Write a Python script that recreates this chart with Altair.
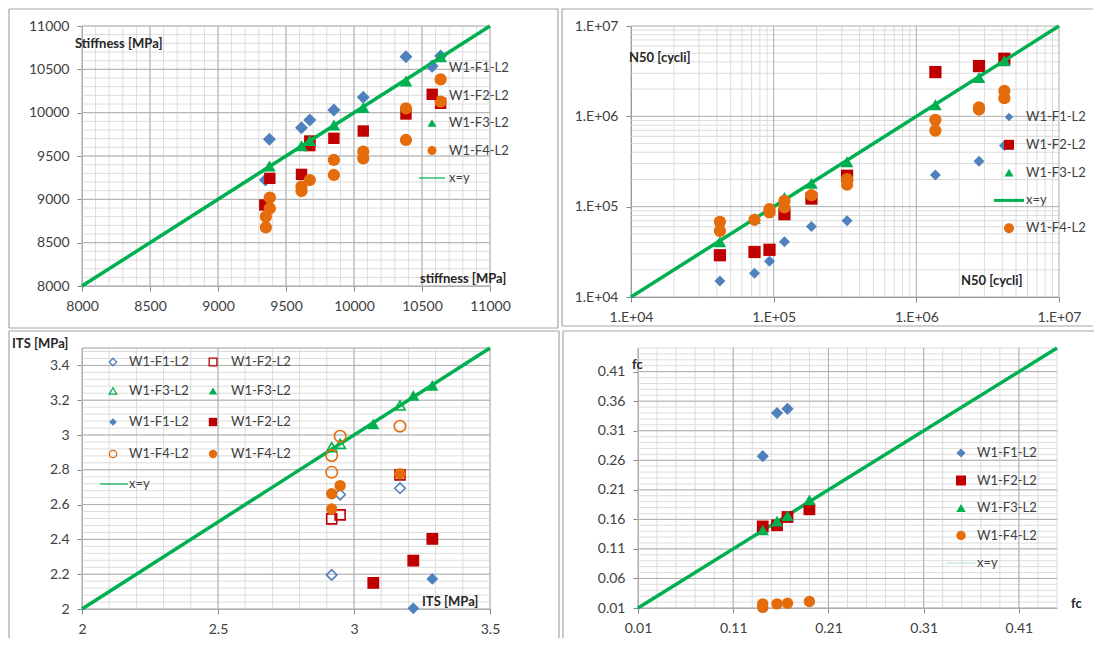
import altair as alt
import numpy as np
import pandas as pd

FONT = "Lato"
TXT = "#404040"
BLUE, RED, GREEN, ORANGE = "#4F81BD", "#C00000", "#00B050", "#E46C0A"
MAJOR, MINOR, AXISC, BORDER = "#AEAEAE", "#DCDCDC", "#868686", "#A6A6A6"

# ---------------- Panel 1 : stiffness ----------------
p1_f1_x = [9378, 9349, 9614, 9675, 9852, 10068, 10382, 10575, 10637]
p1_f1_y = [9692, 9223, 9827, 9915, 10031, 10177, 10646, 10538, 10654]
p1_f2_x = [9344, 9381, 9614, 9675, 9675, 9852, 10068, 10382, 10575, 10637]
p1_f2_y = [8935, 9242, 9288, 9673, 9620, 9704, 9788, 9985, 10212, 10108]
p1_f3_x = [9378, 9614, 9675, 9852, 10068, 10382, 10637]
p1_f3_y = [9385, 9619, 9680, 9858, 10058, 10365, 10646]
p1_f4_x = [9381, 9381, 9352, 9352, 9614, 9614, 9675, 9852, 9852, 10068, 10068, 10382, 10382, 10637, 10637]
p1_f4_y = [9019, 8896, 8800, 8677, 9146, 9096, 9223, 9454, 9281, 9550, 9473, 10050, 9685, 10385, 10127]
p1_line = [8000, 11000]
p1_ticks = [8000, 8500, 9000, 9500, 10000, 10500, 11000]

# ---------------- Panel 2 : N50 ----------------
p2_x = [42000, 73400, 93500, 119000, 184000, 327000, 1360000, 2750000, 4140000]
p2_f1_y = [15000, 18300, 24900, 40800, 60300, 69700, 224000, 318000, 474000]
p2_f2_y = [29000, 31500, 33300, 82600, 123000, 220000, 3090000, 3600000, 4340000]
p2_f3_y = [40800, 74000, 94000, 126000, 181000, 315000, 1340000, 2690000, 4120000]
p2_f4_x = [42000, 42000, 73400, 93500, 93500, 119000, 119000, 184000, 327000, 327000,
           1360000, 1360000, 2750000, 2750000, 4140000, 4140000]
p2_f4_y = [67900, 53900, 71600, 86300, 94000, 116000, 98000, 134000, 202000, 175000,
           914000, 695000, 1260000, 1190000, 1910000, 1590000]
p2_line = [1e4, 1e7]
p2_ticks = [1e4, 1e5, 1e6, 1e7]

# ---------------- Panel 3 : ITS ----------------
p3_f1o_x = [2.918, 2.949, 3.169]
p3_f1o_y = [2.196, 2.658, 2.694]
p3_f1f_x = [3.218, 3.288]
p3_f1f_y = [2.004, 2.173]
p3_f2o_x = [2.918, 2.949, 3.169]
p3_f2o_y = [2.518, 2.541, 2.771]
p3_f2f_x = [3.071, 3.218, 3.288]
p3_f2f_y = [2.150, 2.278, 2.403]
p3_f3o_x = [2.918, 2.949, 3.169]
p3_f3o_y = [2.930, 2.949, 3.170]
p3_f3f_x = [3.071, 3.218, 3.288]
p3_f3f_y = [3.064, 3.227, 3.285]
p3_f4o_x = [2.949, 3.169, 2.918, 2.918]
p3_f4o_y = [2.993, 3.051, 2.882, 2.786]
p3_f4f_x = [2.949, 2.918, 2.918, 3.169]
p3_f4f_y = [2.709, 2.662, 2.575, 2.777]
p3_line = [2.0, 3.5]
p3_xticks = [2, 2.5, 3, 3.5]
p3_yticks = [2, 2.2, 2.4, 2.6, 2.8, 3, 3.2, 3.4]

# ---------------- Panel 4 : fc ----------------
p4_x = [0.141, 0.156, 0.167, 0.190]
p4_f1_x = [0.141, 0.156, 0.167]
p4_f1_y = [0.267, 0.340, 0.347]
p4_f2_y = [0.148, 0.150, 0.164, 0.177]
p4_f3_y = [0.142, 0.157, 0.166, 0.193]
p4_f4_x = [0.141, 0.141, 0.156, 0.167, 0.190]
p4_f4_y = [0.017, 0.011, 0.017, 0.018, 0.021]
p4_line = [0.01, 0.45]
p4_xticks = [0.01, 0.11, 0.21, 0.31, 0.41]
p4_yticks = [0.01, 0.06, 0.11, 0.16, 0.21, 0.26, 0.31, 0.36, 0.41]

LEG_STD = ["W1-F1-L2", "W1-F2-L2", "W1-F3-L2", "W1-F4-L2", "x=y"]
LEG_P2 = ["W1-F1-L2", "W1-F2-L2", "W1-F3-L2", "x=y", "W1-F4-L2"]
LEG_P3_C1 = ["W1-F1-L2", "W1-F3-L2", "W1-F1-L2", "W1-F4-L2", "x=y"]
LEG_P3_C2 = ["W1-F2-L2", "W1-F3-L2", "W1-F2-L2", "W1-F4-L2"]
TITLES = {"p1": ("Stiffness [MPa]", "stiffness [MPa]"),
          "p2": ("N50 [cycli]", "N50 [cycli]"),
          "p3": ("ITS [MPa]", "ITS [MPa]"),
          "p4": ("fc", "fc")}


def axis(values, fmt=None, expr=None):
    kw = dict(values=values, labelFont=FONT, labelFontSize=14, labelColor=TXT, grid=False,
              domainColor=AXISC, tickColor=AXISC, tickSize=5, labelPadding=8,
              title=None, labelFlush=False, labelOverlap=False)
    if fmt:
        kw["format"] = fmt
    if expr:
        kw["labelExpr"] = expr
    return alt.Axis(**kw)


class Panel:
    def __init__(self, xsc, ysc, xax, yax):
        self.xsc, self.ysc, self.xax, self.yax = xsc, ysc, xax, yax

    def X(self, f):
        return alt.X(f, scale=self.xsc, axis=self.xax)

    def Y(self, f):
        return alt.Y(f, scale=self.ysc, axis=self.yax)

    def grid(self, vals, ch, color):
        df = pd.DataFrame({"v": vals})
        enc = dict(x=self.X("v:Q")) if ch == "x" else dict(y=self.Y("v:Q"))
        return alt.Chart(df).mark_rule(color=color, strokeWidth=1).encode(**enc)

    def scatter(self, xs, ys, shape, color, size, filled=True):
        df = pd.DataFrame({"x": xs, "y": ys})
        if filled:
            m = alt.Chart(df).mark_point(shape=shape, filled=True, size=size, opacity=1, color=color)
        else:
            m = alt.Chart(df).mark_point(shape=shape, filled=False, size=size, opacity=1,
                                         color=color, strokeWidth=1.6)
        return m.encode(x=self.X("x:Q"), y=self.Y("y:Q"))

    def idline(self, vals):
        df = pd.DataFrame({"x": vals, "y": vals})
        return alt.Chart(df).mark_line(color=GREEN, strokeWidth=3.5).encode(
            x=self.X("x:Q"), y=self.Y("y:Q"))


def vtext(s, x, y, bold=False, size=13, align="left"):
    return alt.Chart().mark_text(text=s, font=FONT, fontSize=size, color=TXT if not bold else "#262626",
                                 fontWeight="bold" if bold else "normal", align=align,
                                 baseline="middle").encode(x=alt.value(x), y=alt.value(y))


def vpoint(shape, color, size, x, y, filled=True):
    if filled:
        m = alt.Chart().mark_point(shape=shape, filled=True, size=size, opacity=1, color=color)
    else:
        m = alt.Chart().mark_point(shape=shape, filled=False, size=size, opacity=1, color=color,
                                   strokeWidth=1.3)
    return m.encode(x=alt.value(x), y=alt.value(y))


def vline(x1, x2, y, color, w):
    return alt.Chart().mark_rule(color=color, strokeWidth=w).encode(
        x=alt.value(x1), x2=alt.value(x2), y=alt.value(y))


def vrule(x, y1, y2):
    return alt.Chart().mark_rule(color=BORDER, strokeWidth=1.2).encode(
        x=alt.value(x), y=alt.value(y1), y2=alt.value(y2))


def hrule(x1, x2, y):
    return alt.Chart().mark_rule(color=BORDER, strokeWidth=1.2).encode(
        x=alt.value(x1), x2=alt.value(x2), y=alt.value(y))


def frange(a, b, s):
    n = int(round((b - a) / s))
    return [round(a + i * s, 6) for i in range(n + 1)]


# ======== Panel 1 ========
W1, H1 = 408, 260
P = Panel(alt.Scale(domain=[8000, 11000], nice=False, zero=False),
          alt.Scale(domain=[8000, 11000], nice=False, zero=False),
          axis(p1_ticks, "d"), axis(p1_ticks, "d"))
minor1 = frange(8000, 11000, 100)
layers1 = [
    P.grid(minor1, "x", MINOR), P.grid(minor1, "y", MINOR),
    P.grid(p1_ticks, "x", MAJOR), P.grid(p1_ticks, "y", MAJOR),
    P.scatter(p1_f1_x, p1_f1_y, "diamond", BLUE, 169),
    P.scatter(p1_f2_x, p1_f2_y, "square", RED, 130),
    P.scatter(p1_f4_x, p1_f4_y, "circle", ORANGE, 150),
    P.idline(p1_line),
    P.scatter(p1_f3_x, p1_f3_y, "triangle-up", GREEN, 160),
    vtext(TITLES["p1"][0], -7, 18, bold=True),
    vtext(TITLES["p1"][1], 338, 253, bold=True),
]
leg1_shapes = [("diamond", BLUE, 90), ("square", RED, 80), ("triangle-up", GREEN, 80), ("circle", ORANGE, 80)]
for i, lab in enumerate(LEG_STD):
    yy = 42 + i * 27.5
    if i < 4:
        sh, c, s = leg1_shapes[i]
        layers1.append(vpoint(sh, c, s, 350, yy))
    else:
        layers1.append(vline(337, 363, yy, GREEN, 1.2))
    layers1.append(vtext(lab, 367, yy))
layers1 += [vrule(-73, -17, 302), hrule(-73, 476, -17), hrule(-73, 476, 302), vrule(476, -17, 302)]
p1 = alt.layer(*layers1).properties(width=W1, height=H1)

# ======== Panel 2 ========
W2, H2 = 428, 271
lexpr = "'1.E+' + format(round(log(datum.value) / LN10), '02d')"
P = Panel(alt.Scale(type="log", domain=[1e4, 1e7], nice=False),
          alt.Scale(type="log", domain=[1e4, 1e7], nice=False),
          axis(p2_ticks, expr=lexpr), axis(p2_ticks, expr=lexpr))
minor2 = [m * 10 ** e for e in (4, 5, 6) for m in range(2, 10)]
layers2 = [
    P.grid(minor2, "x", MINOR), P.grid(minor2, "y", MINOR),
    P.grid(p2_ticks, "x", MAJOR), P.grid(p2_ticks, "y", MAJOR),
    P.scatter(p2_x, p2_f1_y, "diamond", BLUE, 120),
    P.scatter(p2_x, p2_f2_y, "square", RED, 150),
    P.idline(p2_line),
    P.scatter(p2_x, p2_f3_y, "triangle-up", GREEN, 160),
    P.scatter(p2_f4_x, p2_f4_y, "circle", ORANGE, 150),
    vtext(TITLES["p2"][0], -2, 32, bold=True),
    vtext(TITLES["p2"][1], 330, 255, bold=True),
]
leg2_shapes = [("diamond", BLUE, 70), ("square", RED, 100), ("triangle-up", GREEN, 80), None, ("circle", ORANGE, 100)]
for i, lab in enumerate(LEG_P2):
    yy = 91 + i * 27.8
    if leg2_shapes[i] is None:
        layers2.append(vline(363, 393, yy, GREEN, 3))
    else:
        sh, c, s = leg2_shapes[i]
        layers2.append(vpoint(sh, c, s, 378, yy))
    layers2.append(vtext(lab, 395, yy))
layers2 += [vrule(-69, -17, 300), hrule(-69, 462, -17), hrule(-69, 462, 300)]
p2 = alt.layer(*layers2).properties(width=W2, height=H2)

# ======== Panel 3 ========
W3, H3 = 408, 261
P = Panel(alt.Scale(domain=[2, 3.5], nice=False, zero=False),
          alt.Scale(domain=[2, 3.5], nice=False, zero=False),
          axis(p3_xticks, "~g"), axis(p3_yticks, "~g"))
layers3 = [
    P.grid(frange(2, 3.5, 0.1), "x", MINOR), P.grid(frange(2, 3.48, 0.04) + [3.5], "y", MINOR),
    P.grid(p3_xticks, "x", MAJOR), P.grid(p3_yticks + [3.5], "y", MAJOR),
    P.idline(p3_line),
    P.scatter(p3_f1o_x, p3_f1o_y, "diamond", BLUE, 110, False),
    P.scatter(p3_f2o_x, p3_f2o_y, "square", RED, 100, False),
    P.scatter(p3_f3o_x, p3_f3o_y, "triangle-up", GREEN, 110, False),
    P.scatter(p3_f4o_x, p3_f4o_y, "circle", ORANGE, 130, False),
    P.scatter(p3_f1f_x, p3_f1f_y, "diamond", BLUE, 140),
    P.scatter(p3_f2f_x, p3_f2f_y, "square", RED, 140),
    P.scatter(p3_f3f_x, p3_f3f_y, "triangle-up", GREEN, 150),
    P.scatter(p3_f4f_x, p3_f4f_y, "circle", ORANGE, 130),
    vtext(TITLES["p3"][0], -70, -4, bold=True),
    vtext(TITLES["p3"][1], 340, 254, bold=True),
]
c1 = [("diamond", BLUE, False), ("triangle-up", GREEN, False), ("diamond", BLUE, True), ("circle", ORANGE, False)]
c2 = [("square", RED, False), ("triangle-up", GREEN, True), ("square", RED, True), ("circle", ORANGE, True)]
rows3 = [14, 43, 74, 106]
for i in range(4):
    sh, c, f = c1[i]
    layers3.append(vpoint(sh, c, 60 if f else 55, 31, rows3[i], f))
    layers3.append(vtext(LEG_P3_C1[i], 47, rows3[i]))
    sh, c, f = c2[i]
    layers3.append(vpoint(sh, c, 70 if f else 60, 131, rows3[i], f))
    layers3.append(vtext(LEG_P3_C2[i], 149, rows3[i]))
layers3.append(vline(18, 46, 136, GREEN, 1.2))
layers3.append(vtext(LEG_P3_C1[4], 47, 136))
layers3 += [vrule(-73, -17, 290), hrule(-73, 477, -17), vrule(477, -17, 290)]
p3 = alt.layer(*layers3).properties(width=W3, height=H3)

# ======== Panel 4 ========
W4, H4 = 419, 260
P = Panel(alt.Scale(domain=[0.01, 0.45], nice=False, zero=False),
          alt.Scale(domain=[0.01, 0.45], nice=False, zero=False),
          axis(p4_xticks, ".2f"), axis(p4_yticks, ".2f"))
layers4 = [
    P.grid(frange(0.01, 0.45, 0.02), "x", MINOR), P.grid(frange(0.01, 0.45, 0.01), "y", MINOR),
    P.grid(p4_xticks, "x", MAJOR), P.grid(p4_yticks, "y", MAJOR),
    P.idline(p4_line),
    P.scatter(p4_f1_x, p4_f1_y, "diamond", BLUE, 150),
    P.scatter(p4_x, p4_f2_y, "square", RED, 140),
    P.scatter(p4_x, p4_f3_y, "triangle-up", GREEN, 150),
    P.scatter(p4_f4_x, p4_f4_y, "circle", ORANGE, 130),
    vtext(TITLES["p4"][0], -6, 17, bold=True),
    vtext(TITLES["p4"][1], 433, 256, bold=True),
]
leg4_shapes = [("diamond", BLUE, 80), ("square", RED, 100), ("triangle-up", GREEN, 90), ("circle", ORANGE, 90)]
for i, lab in enumerate(LEG_STD):
    yy = 105 + i * 27.5
    if i < 4:
        sh, c, s = leg4_shapes[i]
        layers4.append(vpoint(sh, c, s, 323, yy))
    else:
        layers4.append(vline(308, 338, yy, "#B7E4C7", 1))
    layers4.append(vtext(lab, 339, yy))
layers4 += [vrule(-75, -17, 290), hrule(-75, 456, -17)]
p4 = alt.layer(*layers4).properties(width=W4, height=H4)

row1 = alt.hconcat(p1, p2, spacing=2)
row2 = alt.hconcat(p3, p4, spacing=2)
chart = alt.vconcat(row1, row2, spacing=1).properties(padding=0).configure_view(strokeWidth=0)

chart.save("out.html", embed_options={"renderer": "svg", "actions": False})
